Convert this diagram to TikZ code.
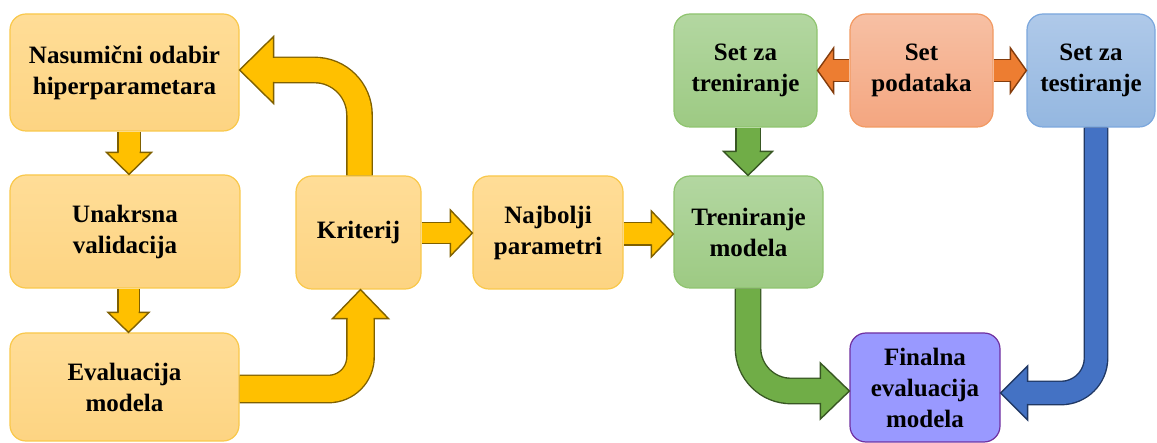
\documentclass[tikz,border=0pt]{standalone}
\usepackage{fontspec}
\setmainfont{Liberation Serif}
\usetikzlibrary{calc}

% box colours
\definecolor{ylwtop}{HTML}{FFDD97}
\definecolor{ylwbot}{HTML}{FDD482}
\definecolor{ylwline}{HTML}{F9C84B}
\definecolor{grntop}{HTML}{B3D7A1}
\definecolor{grnbot}{HTML}{9DCA83}
\definecolor{grnline}{HTML}{8FC46F}
\definecolor{orgtop}{HTML}{F7C0A4}
\definecolor{orgbot}{HTML}{F4A680}
\definecolor{orgline}{HTML}{F29A62}
\definecolor{blutop}{HTML}{AFC9E9}
\definecolor{blubot}{HTML}{94B7E0}
\definecolor{bluline}{HTML}{7BA7DD}
\definecolor{purfill}{HTML}{9999FF}
\definecolor{purline}{HTML}{7030A0}
% block arrow colours
\definecolor{goldfill}{HTML}{FFC000}
\definecolor{goldedge}{HTML}{7F6000}
\definecolor{greenfill}{HTML}{70AD47}
\definecolor{greenedge}{HTML}{385723}
\definecolor{orangefill}{HTML}{ED7D31}
\definecolor{orangeedge}{HTML}{843C0C}
\definecolor{bluefill}{HTML}{4472C4}
\definecolor{blueedge}{HTML}{203864}

% #1 colour prefix, #2 path options, #3 shaft path up to its last corner,
% #4 that last corner, #5 tip, #6 head length, #7 shaft half width, #8 head half width
\newcommand{\blockarrow}[8]{%
  \coordinate (ab) at ($(#5)!#6pt!(#4)$);
  \draw[#1edge, line width=2*#7pt+2.8pt, #2] #3 -- ($(ab)!-1.5pt!(#4)$);
  \draw[#1fill, line width=2*#7pt, #2] #3 -- ($(ab)!-1.5pt!(#4)$);
  \fill[#1fill] ($(ab)!#8pt!90:(#5)$) -- (#5) -- ($(ab)!#8pt!-90:(#5)$) -- cycle;
  \draw[#1edge, line width=1.4pt, line join=miter]
    ($(ab)!#7pt!90:(#5)$) -- ($(ab)!#8pt!90:(#5)$) -- (#5)
    -- ($(ab)!#8pt!-90:(#5)$) -- ($(ab)!#7pt!-90:(#5)$);
}

\tikzset{
  box/.style={rounded corners=16pt, line width=1.2pt, inner sep=0pt,
    align=center, text=black, font=\bfseries\fontsize{25}{31}\selectfont},
  ylwbox/.style={box, draw=ylwline, top color=ylwtop, bottom color=ylwbot},
  grnbox/.style={box, draw=grnline, top color=grntop, bottom color=grnbot},
  orgbox/.style={box, draw=orgline, top color=orgtop, bottom color=orgbot},
  blubox/.style={box, draw=bluline, top color=blutop, bottom color=blubot},
  purbox/.style={box, draw=purline, fill=purfill},
}

\begin{document}
\begin{tikzpicture}[x=1pt, y=-1pt]
\useasboundingbox[fill=white] (0,0) rectangle (1157,443);

% search loop
\node[ylwbox, minimum width=229pt, minimum height=117pt] (n1) at (124.5,72.5) {Nasumični odabir\\hiperparametara};
\node[ylwbox, minimum width=230pt, minimum height=113pt] (n2) at (125,231.5) {Unakrsna\\validacija};
\node[ylwbox, minimum width=229pt, minimum height=108pt] (n3) at (124.5,387) {Evaluacija\\modela};
\node[ylwbox, minimum width=125pt, minimum height=113pt] (n4) at (358.5,232.5) {Kriterij};
\node[ylwbox, minimum width=150pt, minimum height=113pt] (n5) at (548,232.5) {Najbolji\\parametri};

% data split and final model
\node[grnbox, minimum width=143pt, minimum height=113pt] (n6) at (745.5,70.5) {Set za\\treniranje};
\node[orgbox, minimum width=143pt, minimum height=113pt] (n7) at (921.5,70.5) {Set\\podataka};
\node[blubox, minimum width=128pt, minimum height=113pt] (n8) at (1091,70.5) {Set za\\testiranje};
\node[grnbox, minimum width=149pt, minimum height=112pt] (n9) at (748.5,232) {Treniranje\\modela};
\node[purbox, minimum width=150pt, minimum height=109pt] (n10) at (925,387.5) {Finalna\\evaluacija\\modela};

% gold arrows
\blockarrow{gold}{}{(129,0 |- n1.south)}{129,0 |- n1.south}{129,0 |- n2.north}{22}{10.5}{22.5}
\blockarrow{gold}{}{(128.5,0 |- n2.south)}{128.5,0 |- n2.south}{128.5,0 |- n3.north}{20}{10}{20.5}
\blockarrow{gold}{rounded corners=32pt}{(n3.east |- 0,389) -- (360.5,389)}{360.5,389}{360.5,0 |- n4.south}{29}{13}{28}
\blockarrow{gold}{rounded corners=45pt}{(359.5,0 |- n4.north) -- (359.5,70)}{359.5,70}{n1.east |- 0,70}{34}{12}{33.5}
\blockarrow{gold}{}{(n4.east |- 0,233)}{n4.east |- 0,233}{n5.west |- 0,233}{22}{10}{23}
\blockarrow{gold}{}{(n5.east |- 0,234)}{n5.east |- 0,234}{n9.west |- 0,234}{22}{10.5}{23}

% orange arrows
\blockarrow{orange}{}{(n7.west |- 0,70.5)}{n7.west |- 0,70.5}{n6.east |- 0,70.5}{16}{10.5}{22.5}
\blockarrow{orange}{}{(n7.east |- 0,70.5)}{n7.east |- 0,70.5}{n8.west |- 0,70.5}{16}{10.5}{22.5}

% green arrows
\blockarrow{green}{}{(748,0 |- n6.south)}{748,0 |- n6.south}{748,0 |- n9.north}{24}{11.5}{24.5}
\blockarrow{green}{rounded corners=43pt}{(748,0 |- n9.south) -- (748,391)}{748,391}{n10.west |- 0,391}{29}{12}{28}

% blue arrow
\blockarrow{blue}{rounded corners=35pt}{(1096,0 |- n8.south) -- (1096,393)}{1096,393}{n10.east |- 0,393}{27}{11}{27}
\end{tikzpicture}
\end{document}
